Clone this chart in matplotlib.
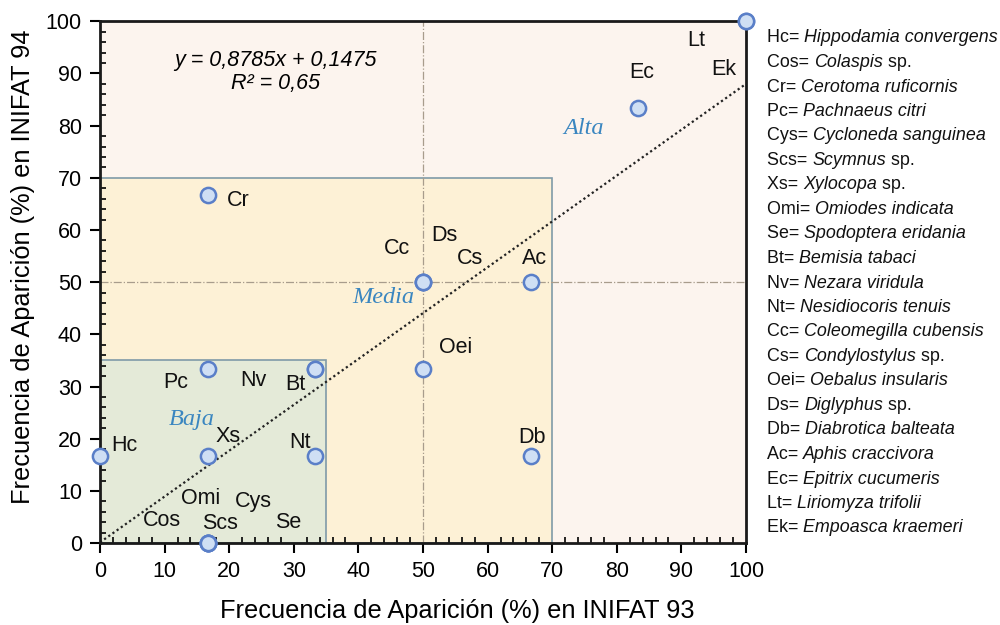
import matplotlib
matplotlib.use("Agg")
from matplotlib import pyplot as plt
from matplotlib.patches import Rectangle

plt.rcParams['font.family'] = ['Liberation Sans', 'DejaVu Sans']

# species abbreviations and their frequencies (%) in INIFAT 93 (x) and INIFAT 94 (y)
codes = ['Hc', 'Cos', 'Cr', 'Pc', 'Cys', 'Scs', 'Xs', 'Omi', 'Se', 'Bt', 'Nv',
         'Nt', 'Cc', 'Cs', 'Oei', 'Ds', 'Db', 'Ac', 'Ec', 'Lt', 'Ek']
freq_93 = [0, 16.67, 16.67, 16.67, 16.67, 16.67, 16.67, 16.67, 16.67, 33.33, 33.33,
           33.33, 50, 50, 50, 50, 66.67, 66.67, 83.33, 100, 100]
freq_94 = [16.67, 0, 66.67, 33.33, 0, 0, 16.67, 0, 0, 33.33, 33.33,
           16.67, 50, 50, 33.33, 50, 16.67, 50, 83.33, 100, 100]

# where each code label sits (data coords)
label_x = [3.7, 9.6, 21.4, 11.8, 23.8, 18.6, 19.8, 15.5, 29.1, 30.3, 23.8,
           31.0, 46.0, 57.3, 55.0, 53.3, 66.9, 67.2, 83.9, 92.3, 96.6]
label_y = [18.8, 4.4, 65.7, 30.7, 7.9, 3.8, 20.5, 8.6, 4.0, 30.3, 31.2,
           19.2, 56.5, 54.6, 37.5, 59.0, 20.3, 54.6, 90.2, 96.4, 90.8]

slope, intercept = 0.8785, 0.1475

legend_entries = [
    ('Hc= ', 'Hippodamia convergens', ''),
    ('Cos= ', 'Colaspis', ' sp.'),
    ('Cr= ', 'Cerotoma ruficornis', ''),
    ('Pc= ', 'Pachnaeus citri', ''),
    ('Cys= ', 'Cycloneda sanguinea', ''),
    ('Scs= ', 'Scymnus', ' sp.'),
    ('Xs= ', 'Xylocopa', ' sp.'),
    ('Omi= ', 'Omiodes indicata', ''),
    ('Se= ', 'Spodoptera eridania', ''),
    ('Bt= ', 'Bemisia tabaci', ''),
    ('Nv= ', 'Nezara viridula', ''),
    ('Nt= ', 'Nesidiocoris tenuis', ''),
    ('Cc= ', 'Coleomegilla cubensis', ''),
    ('Cs= ', 'Condylostylus', ' sp.'),
    ('Oei= ', 'Oebalus insularis', ''),
    ('Ds= ', 'Diglyphus', ' sp.'),
    ('Db= ', 'Diabrotica balteata', ''),
    ('Ac= ', 'Aphis craccivora', ''),
    ('Ec= ', 'Epitrix cucumeris', ''),
    ('Lt= ', 'Liriomyza trifolii', ''),
    ('Ek= ', 'Empoasca kraemeri', ''),
]

fig = plt.figure(figsize=(10, 6.25), dpi=100)
ax = fig.add_axes([0.1, 0.131, 0.646, 0.835])
ax.set_facecolor('#fcf4ee')

# zones
ax.add_patch(Rectangle((0, 0), 70, 70, facecolor='#fdf1d6', edgecolor='#7f9aa8', lw=1.2, zorder=0.5))
ax.add_patch(Rectangle((0, 0), 35, 35, facecolor='#e4ead8', edgecolor='#7f9aa8', lw=1.2, zorder=0.6))

ax.axvline(50, color='#a89c8c', lw=0.9, ls='-.', zorder=1)
ax.axhline(50, color='#a89c8c', lw=0.9, ls='-.', zorder=1)

# trend line
ax.plot([0, 100], [intercept, slope * 100 + intercept], color='#222222', lw=1.6, ls=(0, (1, 1.3)), zorder=2)

ax.scatter(freq_93, freq_94, s=120, facecolor='#cfdff4', edgecolor='#5a7fc8', lw=1.8, zorder=5, clip_on=False)

for code, lx, ly in zip(codes, label_x, label_y):
    ax.text(lx, ly, code, fontsize=15.5, ha='center', va='center', color='#111111', zorder=6)

zone_font = dict(family='Liberation Serif', style='italic', fontsize=17.5, color='#3a86c0', ha='center', va='center')
ax.text(74.8, 79.5, 'Alta', **zone_font)
ax.text(43.8, 47.1, 'Media', **zone_font)
ax.text(14.2, 23.6, 'Baja', **zone_font)

ax.text(27.1, 92.5, 'y = 0,8785x + 0,1475', fontsize=15.5, style='italic', ha='center', va='center')
ax.text(27.1, 88.1, 'R² = 0,65', fontsize=15.5, style='italic', ha='center', va='center')

ax.set_xlim(0, 100)
ax.set_ylim(0, 100)
ax.set_xticks(range(0, 101, 10))
ax.set_yticks(range(0, 101, 10))
ax.set_xticks(range(0, 101, 2), minor=True)
ax.set_yticks(range(0, 101, 2), minor=True)
ax.tick_params(which='major', direction='out', length=7, width=1.5, labelsize=15.5, pad=6)
ax.tick_params(which='minor', direction='in', length=4.5, width=1.2)
for sp in ax.spines.values():
    sp.set_linewidth(2)
    sp.set_color('#1a1a1a')

ax.set_xlabel('Frecuencia de Aparición (%) en INIFAT 93', fontsize=18.3, labelpad=12, x=0.553)
ax.set_ylabel('Frecuencia de Aparición (%) en INIFAT 94', fontsize=18.3, labelpad=8, y=0.53)

# legend with mixed upright / italic text
renderer = fig.canvas.get_renderer()
x0 = 0.767
y0 = 1 - 38 / 625
step = 24.5 / 625
for i, (abbr, name, suffix) in enumerate(legend_entries):
    y = y0 - i * step
    x = x0
    for part, style in ((abbr, 'normal'), (name, 'italic'), (suffix, 'normal')):
        if not part:
            continue
        t = fig.text(x, y, part, fontsize=12.9, style=style, ha='left', va='center', color='#111111')
        bb = t.get_window_extent(renderer=renderer)
        x += bb.width / fig.bbox.width

plt.savefig('out.png', dpi=100)
